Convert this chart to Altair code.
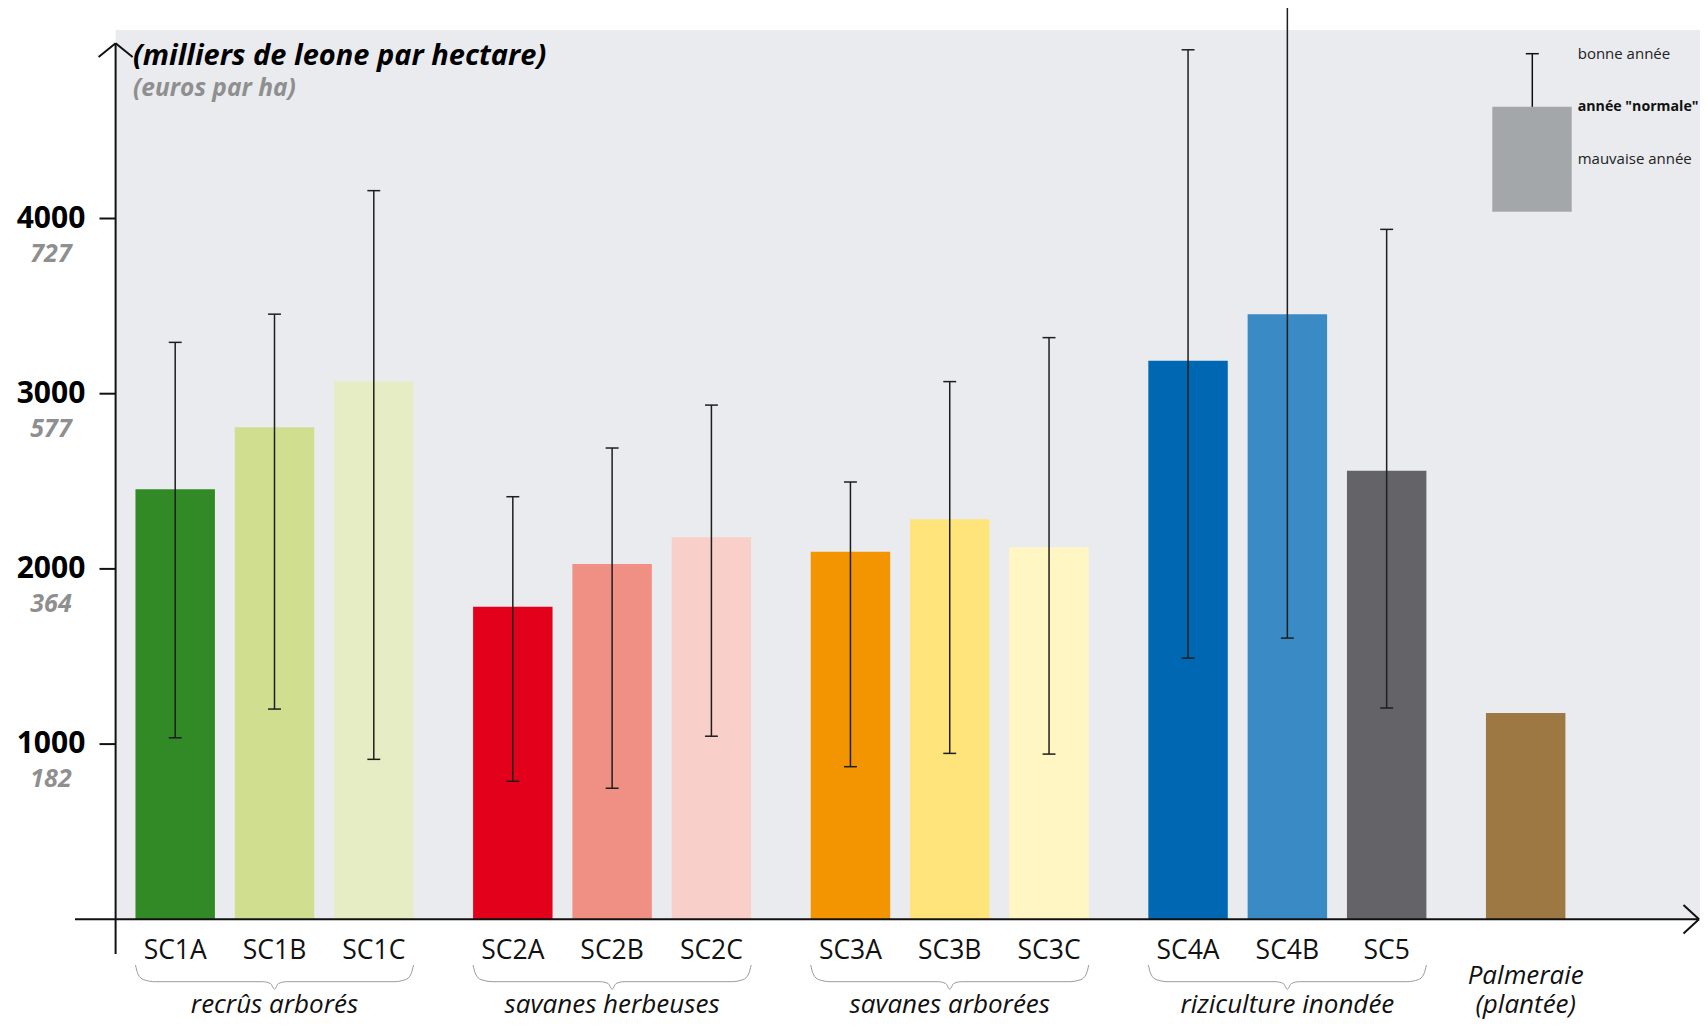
import altair as alt
import pandas as pd

# ---------------- data ----------------
codes = ["SC1A", "SC1B", "SC1C", "SC2A", "SC2B", "SC2C", "SC3A", "SC3B", "SC3C",
         "SC4A", "SC4B", "SC5", ""]
group_of = [0, 0, 0, 1, 1, 1, 2, 2, 2, 3, 3, 3, 4]
group_names = ["recrûs arborés", "savanes herbeuses", "savanes arborées",
               "riziculture inondée", "Palmeraie\n(plantée)"]
group_braced = [True, True, True, True, False]
normal_year = [2454, 2809, 3070, 1784, 2028, 2180, 2098, 2283, 2123, 3188, 3454, 2560, 1178]
good_year = [3293, 3454, 4159, 2412, 2690, 2935, 2496, 3069, 3320, 4963, 5400, 3938, None]
bad_year = [1036, 1200, 913, 788, 748, 1045, 871, 947, 943, 1491, 1605, 1206, None]
bar_colors = ["#328a26", "#d0df8f", "#e6edc4", "#e2001b", "#f09084", "#f9cfca",
              "#f29500", "#ffe47c", "#fff6c4", "#0068b3", "#3a8ac5", "#646468", "#9e7842"]
tick_values = [1000, 2000, 3000, 4000]
tick_leone = ["1000", "2000", "3000", "4000"]
tick_euro = ["182", "364", "577", "727"]
title_main = "(milliers de leone par hectare)"
title_sub = "(euros par ha)"
legend_labels = ["bonne année", 'année "normale"', "mauvaise année"]
legend_weights = ["normal", "bold", "normal"]

# ---------------- layout ----------------
W, H, ORIGIN = 1692, 1013, 8
STEP_PX = 99.3
GROUP_GAP = 0.4
BAR_W = 0.8
CAP_W = 0.065
X0_PAGE = 175.2
Y0_PAGE = 919.3
PX_PER_UNIT = 0.1752
GROUP_LINE_H = 29

XMIN = -(X0_PAGE - ORIGIN) / STEP_PX
XMAX = XMIN + W / STEP_PX
YMAX = (Y0_PAGE - ORIGIN) / PX_PER_UNIT
YMIN = YMAX - H / PX_PER_UNIT


def XV(page_x):
    return (page_x - X0_PAGE) / STEP_PX


def YV(page_y):
    return (Y0_PAGE - page_y) / PX_PER_UNIT


xs = alt.Scale(domain=[XMIN, XMAX], nice=False, zero=False)
ys = alt.Scale(domain=[YMIN, YMAX], nice=False, zero=False)

df = pd.DataFrame({
    "code": codes, "g": group_of, "normal": normal_year,
    "good": good_year, "bad": bad_year, "color": bar_colors,
})
df["pos"] = [i + g * GROUP_GAP for i, g in enumerate(group_of)]
df["xl"] = df["pos"] - BAR_W / 2
df["xr"] = df["pos"] + BAR_W / 2
df["cl"] = df["pos"] - CAP_W
df["cr"] = df["pos"] + CAP_W
df["zero"] = 0.0
df["lab_y"] = YV(959)

gdf = df.groupby("g").agg(left=("xl", "min"), right=("xr", "max"), center=("pos", "mean")).reset_index()
gdf["name"] = group_names
gdf["braced"] = group_braced
gdf["lab_y"] = [YV(1013 - (n.count("\n")) * GROUP_LINE_H) for n in group_names]

# brace paths
brace_rows = []
for _, r in gdf[gdf["braced"]].iterrows():
    L, R = float(r["left"]), float(r["right"])
    C = (L + R) / 2
    pts = [(L, 965), (L + 0.025, 974), (L + 0.08, 979.6), (L + 0.2, 981.7),
           (C - 0.12, 981.7), (C - 0.04, 983.5), (C, 989.3),
           (C + 0.04, 983.5), (C + 0.12, 981.7),
           (R - 0.2, 981.7), (R - 0.08, 979.6), (R - 0.025, 974), (R, 965)]
    for k, (bx, by) in enumerate(pts):
        brace_rows.append({"g": int(r["g"]), "k": k, "bx": float(bx), "by": YV(by)})
brace_df = pd.DataFrame(brace_rows)

# axis / arrow / tick / legend segments (page pixel positions -> scale units)
seg_list = [
    (75, Y0_PAGE, 1699, Y0_PAGE, 2.0),          # x axis
    (115.6, 43.3, 115.6, 954, 2.0),             # y axis
    (115.6, 43.3, 98.6, 57, 2.0), (115.6, 43.3, 132.6, 57, 2.0),
    (1699, Y0_PAGE, 1683.5, 905, 2.0), (1699, Y0_PAGE, 1683.5, 933.5, 2.0),
    (1532.3, 53.7, 1532.3, 159, 1.5),           # legend error bar
    (1525.8, 53.7, 1538.8, 53.7, 1.5), (1525.8, 159, 1538.8, 159, 1.5),
]
for v in tick_values:
    py = Y0_PAGE - v * PX_PER_UNIT
    seg_list.append((99.5, py, 115.6, py, 2.0))
seg_df = pd.DataFrame({
    "x1": [XV(s[0]) for s in seg_list], "y1": [YV(s[1]) for s in seg_list],
    "x2": [XV(s[2]) for s in seg_list], "y2": [YV(s[3]) for s in seg_list],
    "w": [s[4] for s in seg_list],
})

rect_df = pd.DataFrame({
    "x1": [XV(115.6), XV(1492.3)], "x2": [XMAX, XV(1571.7)],
    "y1": [YV(30), YV(106.7)], "y2": [0.0, YV(211.7)],
    "order": [0, 1],
})

tick_df = pd.DataFrame({"v": tick_values, "leone": tick_leone, "euro": tick_euro,
                        "lx": XV(51)})
title_df = pd.DataFrame({"t": [title_main, title_sub], "x": XV(133),
                         "y": [YV(65), YV(95.5)], "kind": ["main", "sub"]})
leg_df = pd.DataFrame({"t": legend_labels, "y": [YV(53.7), YV(107), YV(159)],
                       "x": XV(1577.7), "w": legend_weights})

FONT = "Open Sans"
AX = "#111111"

bgl = alt.Chart(rect_df).transform_filter("datum.order == 0").mark_rect(color="#e9ebee").encode(
    x=alt.X("x1:Q", scale=xs, axis=None), x2="x2:Q",
    y=alt.Y("y1:Q", scale=ys, axis=None), y2="y2:Q")
legr = alt.Chart(rect_df).transform_filter("datum.order == 1").mark_rect(color="#a4a7aa").encode(
    x=alt.X("x1:Q", scale=xs), x2="x2:Q",
    y=alt.Y("y1:Q", scale=ys), y2="y2:Q")

base = alt.Chart(df)
bars = base.mark_bar().encode(
    x=alt.X("xl:Q", scale=xs), x2="xr:Q",
    y=alt.Y("normal:Q", scale=ys), y2="zero:Q",
    color=alt.Color("color:N", scale=None))

errb = base.transform_filter("isValid(datum.good)")
err_line = errb.mark_rule(color="#1e1e1e", strokeWidth=1.5, clip=True).encode(
    x=alt.X("pos:Q", scale=xs), y=alt.Y("good:Q", scale=ys), y2="bad:Q")
cap_top = errb.mark_rule(color="#1e1e1e", strokeWidth=1.5, clip=True).encode(
    x=alt.X("cl:Q", scale=xs), x2="cr:Q", y=alt.Y("good:Q", scale=ys))
cap_bot = errb.mark_rule(color="#1e1e1e", strokeWidth=1.5, clip=True).encode(
    x=alt.X("cl:Q", scale=xs), x2="cr:Q", y=alt.Y("bad:Q", scale=ys))

segs = alt.Chart(seg_df).mark_rule(color=AX).encode(
    x=alt.X("x1:Q", scale=xs), x2="x2:Q",
    y=alt.Y("y1:Q", scale=ys), y2="y2:Q",
    strokeWidth=alt.StrokeWidth("w:Q", scale=None))

tick_lab = alt.Chart(tick_df).mark_text(
    font=FONT, fontWeight="bold", fontSize=30, color="#000000",
    align="center", baseline="middle").encode(
    x=alt.X("lx:Q", scale=xs), y=alt.Y("v:Q", scale=ys), text="leone:N")
euro_lab = alt.Chart(tick_df).mark_text(
    font=FONT, fontWeight="bold", fontStyle="italic", fontSize=25, color="#8f8f8f",
    align="center", baseline="middle", dy=35).encode(
    x=alt.X("lx:Q", scale=xs), y=alt.Y("v:Q", scale=ys), text="euro:N")

t1 = alt.Chart(title_df).transform_filter("datum.kind == 'main'").mark_text(
    font=FONT, fontWeight="bold", fontStyle="italic", fontSize=29, color="#000000",
    align="left", baseline="alphabetic").encode(
    x=alt.X("x:Q", scale=xs), y=alt.Y("y:Q", scale=ys), text="t:N")
t2 = alt.Chart(title_df).transform_filter("datum.kind == 'sub'").mark_text(
    font=FONT, fontWeight="bold", fontStyle="italic", fontSize=24.5, color="#8f8f8f",
    align="left", baseline="alphabetic").encode(
    x=alt.X("x:Q", scale=xs), y=alt.Y("y:Q", scale=ys), text="t:N")

code_lab = base.transform_filter("datum.code != ''").mark_text(
    font=FONT, fontSize=26.5, color="#111111", align="center", baseline="alphabetic").encode(
    x=alt.X("pos:Q", scale=xs), y=alt.Y("lab_y:Q", scale=ys), text="code:N")

braces = alt.Chart(brace_df).mark_line(
    color="#9a9a9a", strokeWidth=1, interpolate="monotone").encode(
    x=alt.X("bx:Q", scale=xs), y=alt.Y("by:Q", scale=ys),
    detail="g:N", order="k:Q")

group_lab = alt.Chart(gdf).mark_text(
    font=FONT, fontStyle="italic", fontSize=26, color="#111111",
    align="center", baseline="alphabetic", lineBreak="\n", lineHeight=GROUP_LINE_H).encode(
    x=alt.X("center:Q", scale=xs), y=alt.Y("lab_y:Q", scale=ys), text="name:N")

leg_txt_n = alt.Chart(leg_df).transform_filter("datum.w == 'normal'").mark_text(
    font=FONT, fontSize=15, color="#222222", align="left", baseline="middle").encode(
    x=alt.X("x:Q", scale=xs), y=alt.Y("y:Q", scale=ys), text="t:N")
leg_txt_b = alt.Chart(leg_df).transform_filter("datum.w == 'bold'").mark_text(
    font=FONT, fontSize=14.2, fontWeight="bold", color="#111111", align="left", baseline="middle").encode(
    x=alt.X("x:Q", scale=xs), y=alt.Y("y:Q", scale=ys), text="t:N")

chart = alt.layer(
    bgl, bars, err_line, cap_top, cap_bot, segs, tick_lab, euro_lab,
    t1, t2, code_lab, braces, group_lab, legr, leg_txt_n, leg_txt_b
).properties(
    width=W, height=H, padding=0, background="white",
    autosize=alt.AutoSizeParams(type="none"),
).configure_view(stroke=None)

chart.save("out.html", embed_options={"renderer": "svg", "actions": False})
